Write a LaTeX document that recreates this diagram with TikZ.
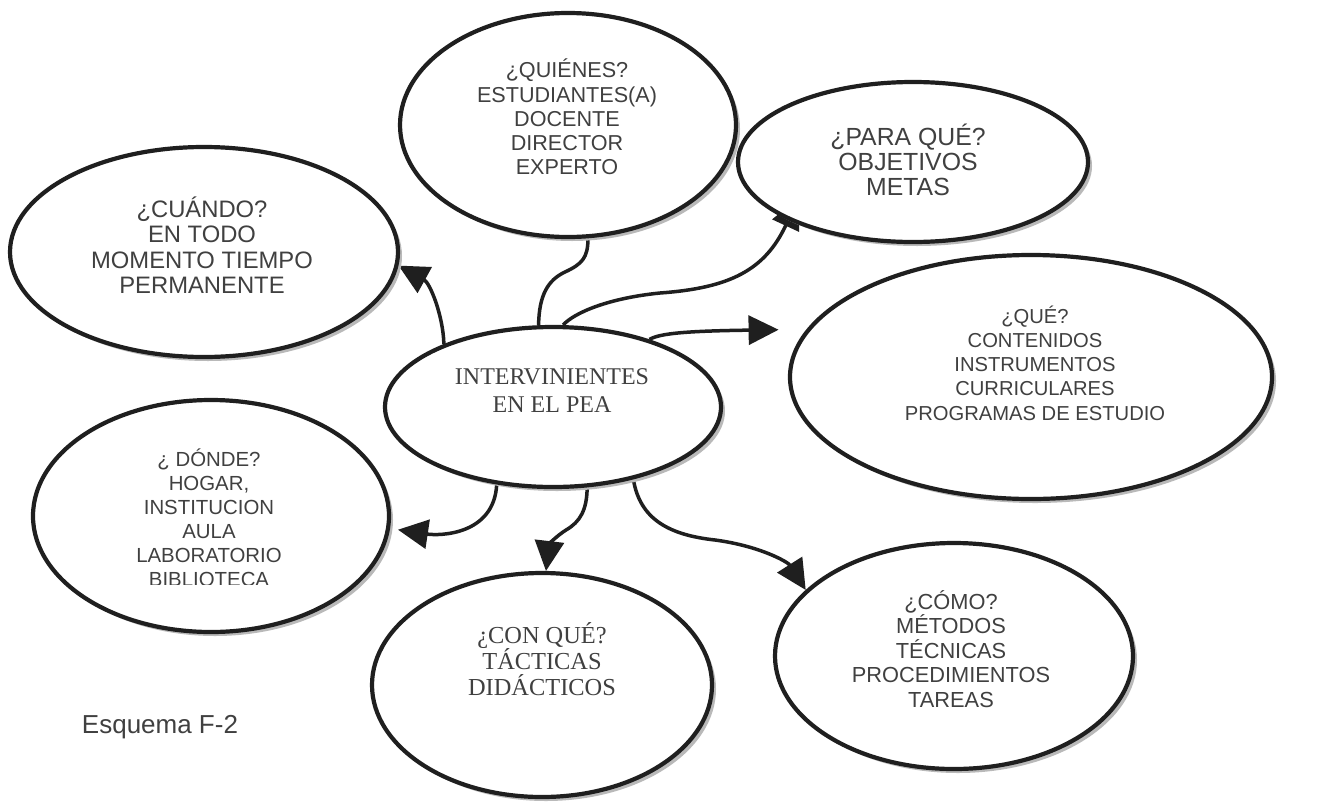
\documentclass[tikz,border=0pt]{standalone}
\usepackage{fontspec}
\setmainfont{Liberation Sans}
\newfontfamily\serifT{Liberation Serif}
\usetikzlibrary{shapes.geometric,arrows.meta,shadows}
\pgfdeclarelayer{paper}
\pgfdeclarelayer{bg}
\pgfsetlayers{paper,bg,main}
\tikzset{
  bubble/.style={ellipse, draw=black!88, line width=2.1pt, fill=white, inner sep=0pt,
    drop shadow={shadow xshift=2pt, shadow yshift=-2pt, fill=gray!55, opacity=1}},
  txt/.style={align=center, text=black!75, inner sep=0pt},
  conn/.style={draw=black!88, line width=1.75pt},
  arr/.style={conn, -{Triangle[length=15pt,width=14.5pt]}},
}
\begin{document}
\begin{tikzpicture}[x=0.5pt,y=-0.5pt]
\useasboundingbox (0,0) rectangle (1326,803);
\begin{pgfonlayer}{paper}
\fill[white] (0,0) rectangle (1326,803);
\end{pgfonlayer}

% ellipses
\node[bubble, minimum width=168pt, minimum height=112pt] (quienes) at (568,125) {};
\node[bubble, minimum width=175pt, minimum height=80pt]  (para)    at (913,162) {};
\node[bubble, minimum width=194pt, minimum height=105pt] (cuando)  at (204,252) {};
\node[bubble, minimum width=241pt, minimum height=122pt] (que)     at (1031,377) {};
\node[bubble, minimum width=168pt, minimum height=80pt]  (central) at (553,407) {};
\node[bubble, minimum width=178pt, minimum height=116pt] (donde)   at (211,516) {};
\node[bubble, minimum width=179pt, minimum height=113pt] (como)    at (954,656) {};
\node[bubble, minimum width=170pt, minimum height=112pt] (conque)  at (542,685) {};

% texts
\node[txt, font=\fontsize{10.8}{12.1}\selectfont] (quienesT) at (567,117)
  {¿QUIÉNES?\\ESTUDIANTES(A)\\DOCENTE\\DIRECTOR\\EXPERTO};
\node[txt, font=\fontsize{12.4}{12.6}\selectfont] (paraT) at (908,160)
  {¿PARA QUÉ?\\OBJETIVOS\\METAS};
\node[txt, font=\fontsize{11.9}{12.7}\selectfont] (cuandoT) at (202,245)
  {¿CUÁNDO?\\EN TODO\\MOMENTO TIEMPO\\PERMANENTE};
\node[txt, font=\fontsize{10.1}{12.1}\selectfont] (queT) at (1035,363)
  {¿QUÉ?\\CONTENIDOS\\INSTRUMENTOS\\CURRICULARES\\PROGRAMAS DE ESTUDIO};
\node[txt, font=\serifT\fontsize{12}{14}\selectfont] (centralT) at (552,391)
  {INTERVINIENTES\\EN EL PEA};
\begin{scope}
  \clip (0,0) rectangle (1326,584);
  \node[txt, font=\fontsize{10.2}{12}\selectfont] (dondeT) at (209,518)
    {¿ DÓNDE?\\HOGAR,\\INSTITUCION\\AULA\\LABORATORIO\\BIBLIOTECA};
\end{scope}
\node[txt, font=\fontsize{10.9}{12.25}\selectfont] (comoT) at (951,649)
  {¿CÓMO?\\MÉTODOS\\TÉCNICAS\\PROCEDIMIENTOS\\TAREAS};
\node[txt, font=\serifT\fontsize{12.2}{13}\selectfont] (conqueT) at (542,659)
  {¿CON QUÉ?\\TÁCTICAS\\DIDÁCTICOS};
\node[txt, font=\fontsize{13}{15}\selectfont] (esquema) at (160,727) {Esquema F-2};

% connectors
\begin{pgfonlayer}{bg}
\draw[arr] (central.150) .. controls (443,315) and (430,283) .. (cuando.-4);
\draw[conn] (central.100) .. controls (539,295) and (548,280) .. (565,272)
  .. controls (582,264) and (588,258) .. (quienes.-80);
\draw[arr, shorten >=-12pt] (central.83) .. controls (575,312) and (610,298) .. (660,293)
  .. controls (730,288) and (765,270) .. (para.-155);
\draw[arr, shorten >=14pt] (central.35) .. controls (660,333) and (690,331) .. (que.168);
\draw[arr, shorten >=4pt] (central.-126) .. controls (494,535) and (440,536) .. (donde.-4);
\draw[arr] (central.-67) .. controls (587,510) and (580,522) .. (566,530)
  .. controls (555,537) and (549,545) .. (conque.88);
\draw[arr] (central.-42) .. controls (640,520) and (670,535) .. (715,540)
  .. controls (760,546) and (788,562) .. (como.156);
\end{pgfonlayer}
\end{tikzpicture}
\end{document}
